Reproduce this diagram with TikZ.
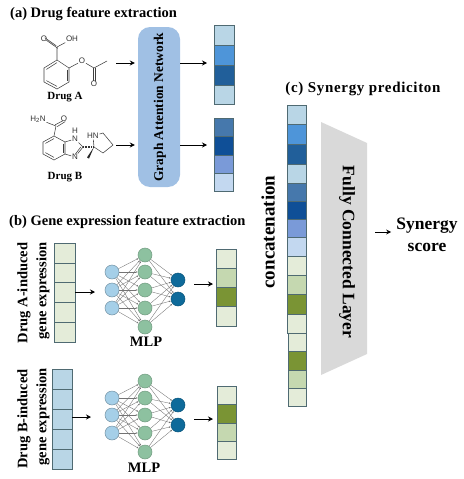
\documentclass[tikz,border=0pt]{standalone}
\usepackage{fontspec}
\setmainfont{Liberation Serif}
\newfontfamily\atomfont{Liberation Sans}
\newfontfamily\spacedfont[LetterSpace=4.5,BoldFont={Liberation Serif Bold}]{Liberation Serif}
\usetikzlibrary{arrows.meta,calc}
\definecolor{vLight}{HTML}{B9D6E6}
\definecolor{vMid}{HTML}{4E95D9}
\definecolor{vDark}{HTML}{215F9A}
\definecolor{vSteel}{HTML}{4678AC}
\definecolor{vNavy}{HTML}{0F4F97}
\definecolor{vPeri}{HTML}{7A9AD8}
\definecolor{vPale}{HTML}{C3D8F0}
\definecolor{gLight}{HTML}{E4ECD9}
\definecolor{gMid}{HTML}{C5D8B0}
\definecolor{gDark}{HTML}{7A9434}
\definecolor{edgeC}{HTML}{4F6A72}
\definecolor{gatC}{HTML}{A0C0E4}
\definecolor{inC}{HTML}{A5CFE8}
\definecolor{hidC}{HTML}{8DC1A0}
\definecolor{outC}{HTML}{0E6A9A}
\definecolor{fclC}{HTML}{D9D9D9}
\tikzset{
  cellbox/.style={draw=edgeC,line width=0.8pt,inner sep=0pt,outer sep=0pt},
  flow/.style={-{Stealth[length=5pt,width=5pt]},line width=1pt,black},
  title/.style={font=\fontsize{14.5}{16}\selectfont\bfseries,inner sep=0pt,anchor=west},
  lab/.style={font=\fontsize{14.5}{16}\selectfont\bfseries,inner sep=0pt},
  small/.style={font=\fontsize{11}{13}\selectfont\bfseries,inner sep=0pt},
  bond/.style={line width=0.55pt,draw=black!75},
  atom/.style={font=\atomfont\fontsize{8}{9}\selectfont,inner sep=0.6pt,text=black!80},
  neuron/.style={circle,minimum size=14pt,inner sep=0pt,line width=0.5pt},
  inn/.style={neuron,fill=inC,draw=inC!70!black},
  hid/.style={neuron,fill=hidC,draw=hidC!80!black},
  outn/.style={neuron,fill=outC,draw=outC!80!black},
  syn/.style={-{Latex[length=2pt,width=1.6pt]},line width=0.35pt,draw=black!55},
}
% name, x-left, x-right, y-top, y-bottom, fill
\newcommand{\cellnode}[6]{%
  \pgfmathsetmacro{\cw}{#3-#2}\pgfmathsetmacro{\ch}{#5-#4}%
  \pgfmathsetmacro{\cx}{(#2+#3)/2}\pgfmathsetmacro{\cy}{(#4+#5)/2}%
  \node[cellbox,fill=#6,minimum width=\cw pt,minimum height=\ch pt] (#1) at (\cx,\cy) {};}
\newcommand{\mlp}[8]{%
  \foreach \i/\yy in {1/#2,2/#3,3/#4} \node[inn] (#1i\i) at (112,\yy) {};
  \node[hid] (#1h1) at (145,#5) {};
  \node[hid] (#1h2) at (145,#2) {};
  \node[hid] (#1h3) at (145,#3) {};
  \node[hid] (#1h4) at (145,#4) {};
  \node[hid] (#1h5) at (145,#6) {};
  \node[outn] (#1o1) at (178,#7) {};
  \node[outn] (#1o2) at (178,#8) {};
  \foreach \a in {1,2,3} \foreach \b in {1,...,5} \draw[syn] (#1i\a) -- (#1h\b);
  \foreach \a in {1,...,5} \foreach \b in {1,2} \draw[syn] (#1h\a) -- (#1o\b);
}
\begin{document}
\begin{tikzpicture}[x=1pt,y=-1pt]
\useasboundingbox (0,0) rectangle (463,479);
% titles
\node[title] (ta) at (10,14) {(a) Drug feature extraction};
\node[title] (tb) at (9,222) {(b) Gene expression feature extraction};
\node[title,anchor=center,font=\spacedfont\fontsize{15}{16}\selectfont\bfseries] (tc) at (363,89) {(c) Synergy prediciton};
% Drug A molecule
\coordinate (a1) at (57,60); \coordinate (a2) at (69,68); \coordinate (a3) at (69,82);
\coordinate (a4) at (57,89); \coordinate (a5) at (44,82); \coordinate (a6) at (44,68);
\coordinate (a7) at (57,47); \coordinate (a8) at (94,68); \coordinate (a9) at (107,61);
\node[atom] (aO1) at (44,39) {O};
\node[atom] (aOH) at (72,39) {OH};
\node[atom] (aO2) at (82,61) {O};
\node[atom] (aO3) at (94,84) {O};
\draw[bond] (a1)--(a2)--(a3)--(a4)--(a5)--(a6)--(a1);
\draw[bond] ($(a2)+(-2.2,1.5)$)--($(a3)+(-2.2,-1.5)$);
\draw[bond] ($(a4)+(0,-2.6)$)--($(a5)+(2.4,-1.4)$);
\draw[bond] ($(a6)+(2.4,1.4)$)--($(a1)+(0,2.6)$);
\draw[bond] (a1)--(a7) (a7)--(aOH) (a2)--(aO2) (aO2)--(a8) (a8)--(a9);
\draw[bond] ($(a7)+(-0.8,-1.3)$)--($(aO1)+(0.8,-1.3)$) ($(a7)+(0.8,1.3)$)--($(aO1)+(2.4,1.3)$);
\draw[bond] ($(a8)+(-1.2,0)$)--($(aO3)+(-1.2,-3)$) ($(a8)+(1.2,0)$)--($(aO3)+(1.2,-3)$);
\node[small] (da) at (65,97) {Drug A};
% Drug B molecule
\coordinate (b1) at (54,136); \coordinate (b2) at (65,142); \coordinate (b3) at (65,154);
\coordinate (b4) at (54,160); \coordinate (b5) at (43,154); \coordinate (b6) at (43,142);
\coordinate (b7) at (56,126); \coordinate (b8) at (83,147); \coordinate (b9) at (94,147);
\coordinate (b10) at (103,133); \coordinate (b11) at (113,145); \coordinate (b12) at (103,153);
\coordinate (b13) at (88,158);
\node[atom] (bH2N) at (38,119) {H\textsubscript{2}N};
\node[atom] (bO) at (64,119) {O};
\node[atom] (bN1) at (75,139) {N};
\node[atom] (bH) at (75,131) {H};
\node[atom] (bN2) at (75,157) {N};
\node[atom] (bHN) at (93,136) {HN};
\draw[bond] (b1)--(b2)--(b3)--(b4)--(b5)--(b6)--(b1);
\draw[bond] ($(b2)+(-2.2,1.5)$)--($(b3)+(-2.2,-1.5)$);
\draw[bond] ($(b4)+(0,-2.6)$)--($(b5)+(2.4,-1.4)$);
\draw[bond] ($(b6)+(2.4,1.4)$)--($(b1)+(0,2.6)$);
\draw[bond] (b1)--(b7) (b7)--(bH2N) (b2)--(bN1) (bN1)--(b8) (b3)--(bN2);
\draw[bond] (bN2)--(b8) ($(bN2)+(0,-2.4)$)--($(b8)+(-2.2,0)$);
\draw[bond] ($(b7)+(-0.8,-1.2)$)--($(bO)+(-1.2,1.8)$) ($(b7)+(1.2,0.6)$)--($(bO)+(1.2,2.6)$);
\draw[bond] (bHN)--(b10)--(b11)--(b12)--(b9)--(bHN);
\draw[black!80,line width=1.1pt,dash pattern=on 0.7pt off 0.9pt] (b8)--(b9);
\fill[black!85] (b9)--($(b13)+(-1,-0.6)$)--($(b13)+(1,0.6)$)--cycle;
\node[small] (db) at (65,177) {Drug B};
% GAT
\node[fill=gatC,rounded corners=12pt,minimum width=42pt,minimum height=160pt,inner sep=0pt] (gat) at (159,107) {};
\node[rotate=90,small,font=\fontsize{13.4}{15}\selectfont\bfseries] (gatl) at (160,107) {Graph Attention Network};
% drug vectors
\cellnode{va1}{214}{234}{25.5}{45}{vLight}
\cellnode{va2}{214}{234}{45}{65}{vMid}
\cellnode{va3}{214}{234}{65}{85}{vDark}
\cellnode{va4}{214}{234}{85}{104}{vLight}
\cellnode{vb1}{214}{233}{118}{136}{vSteel}
\cellnode{vb2}{214}{233}{136}{155}{vNavy}
\cellnode{vb3}{214}{233}{155}{173}{vPeri}
\cellnode{vb4}{214}{233}{173}{191}{vPale}
\coordinate (sa) at (116,63); \coordinate (sb) at (116,145);
\draw[flow,shorten >=3pt] (sa)--(sa-|gat.west);
\draw[flow,shorten >=3pt] (sb)--(sb-|gat.west);
\draw[flow,shorten >=7pt] (sa-|gat.east)--(sa-|va2.west);
\draw[flow,shorten >=7pt] (sb-|gat.east)--(sb-|vb2.west);
% gene input A
\foreach \n/\t/\b in {1/243/263,2/263/282.5,3/282.5/302,4/302/322,5/322/342}{\cellnode{ga\n}{54}{75}{\t}{\b}{gLight}}
\foreach \n/\t/\b in {1/369/389,2/389/409,3/409/429,4/429/449,5/449/469}{\cellnode{gb\n}{52}{72}{\t}{\b}{vLight}}
\node[lab,rotate=90] (la1) at (24,293) {Drug A-induced};
\node[lab,rotate=90] (la2) at (43,291) {gene expression};
\node[lab,rotate=90] (lb1) at (24,419) {Drug B-induced};
\node[lab,rotate=90] (lb2) at (43,417) {gene expression};
% MLPs
\mlp{A}{272}{290}{308}{255}{327}{280}{299}
\mlp{B}{398}{415}{433}{381}{452}{405}{425}
\node[lab] (ma) at (146,342) {MLP};
\node[lab] (mb) at (144,468) {MLP};
% gene outputs
\cellnode{oa1}{216}{236}{249}{268}{gLight}
\cellnode{oa2}{216}{236}{268}{287.5}{gMid}
\cellnode{oa3}{216}{236}{287.5}{306.5}{gDark}
\cellnode{oa4}{216}{236}{306.5}{326}{gLight}
\cellnode{ob1}{217}{236}{386}{404.5}{gLight}
\cellnode{ob2}{217}{236}{404.5}{423}{gDark}
\cellnode{ob3}{217}{236}{423}{441}{gMid}
\cellnode{ob4}{217}{236}{441}{459}{gLight}
\coordinate (ra) at (0,292); \coordinate (rb) at (0,417);
\coordinate (ea) at (95,292); \coordinate (eb) at (91,417);
\coordinate (fa) at (194,284); \coordinate (fb) at (194,419);
\draw[flow] (ra-|ga3.east)--(ea);
\draw[flow] (rb-|gb3.east)--(eb);
\draw[flow,shorten >=3pt] (fa)--(fa-|oa2.west);
\draw[flow,shorten >=4pt] (fb)--(fb-|ob2.west);
% concatenated vector
\cellnode{c1}{287}{306}{105}{124.5}{vLight}
\cellnode{c2}{287}{306}{124.5}{144}{vMid}
\cellnode{c3}{287}{306}{144}{164}{vDark}
\cellnode{c4}{287}{306}{164}{183.5}{vLight}
\cellnode{c5}{287}{306}{183.5}{201}{vSteel}
\cellnode{c6}{287}{306}{201}{219.5}{vNavy}
\cellnode{c7}{287}{306}{219.5}{237.5}{vPeri}
\cellnode{c8}{287}{306}{237.5}{256.5}{vPale}
\cellnode{c9}{287}{306}{256.5}{275}{gLight}
\cellnode{c10}{287}{306}{275}{294.5}{gMid}
\cellnode{c11}{287}{306}{294.5}{314}{gDark}
\cellnode{c12}{287}{306}{314}{333.5}{gLight}
\cellnode{c13}{288}{306}{333.5}{351}{gLight}
\cellnode{c14}{288}{306}{351}{370}{gDark}
\cellnode{c15}{288}{306}{370}{388.5}{gMid}
\cellnode{c16}{288}{306}{388.5}{406}{gLight}
\node[lab,rotate=90,font=\fontsize{19}{21}\selectfont\bfseries] (conc) at (268,232) {concatenation};
% FCL
\fill[fclC] (321,122)--(367,143)--(367,354)--(321,375)--cycle;
\node[lab,rotate=-90,font=\fontsize{17.5}{19}\selectfont\bfseries] (fcl) at (347,252) {Fully Connected Layer};
\coordinate (sy) at (375,232);
\node[lab,font=\fontsize{17.5}{19}\selectfont\bfseries] (syn1) at (427,226) {Synergy};
\node[lab,font=\fontsize{17.5}{19}\selectfont\bfseries] (syn2) at (427,247) {score};
\draw[flow,shorten >=5pt] (sy)--(sy-|syn1.west);
\end{tikzpicture}
\end{document}
